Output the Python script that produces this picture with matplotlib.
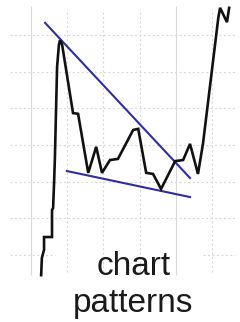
import matplotlib
matplotlib.use('Agg')
from matplotlib import pyplot as plt

# price path (day, price)
days = [2.8, 3.0, 3.6, 3.6, 5.8, 5.8, 6.1, 6.4, 6.6, 7.2, 7.7, 8.0, 8.6,
        11.6, 13.0, 15.8, 18.0, 19.6, 21.8, 24.0, 28.2, 29.6, 31.8, 33.7,
        35.9, 39.8, 42.0, 43.9, 46.1, 47.5, 51.7, 52.2, 54.1, 54.7]
prices = [4.5, 9.2, 11.4, 14.9, 14.9, 22.3, 22.8, 30.5, 36.7, 61.3, 67.3, 68.6, 67.3,
          48.7, 48.5, 32.4, 39.5, 32.4, 35.9, 36.2, 44.1, 44.4, 32.4, 32.1,
          28.0, 35.6, 35.9, 40.3, 32.1, 40.5, 74.6, 77.4, 73.5, 77.4]

# trend lines (start, end)
upper_days = [3.9, 43.9]
upper_prices = [73.3, 31.0]
lower_days = [9.9, 43.9]
lower_prices = [32.9, 25.8]

grid_days = [10, 20, 30, 50]
solid_days = [0, 40]
grid_prices = [20, 30, 40, 50, 60, 70]

fig = plt.figure(figsize=(2.4, 3.22), dpi=100)
ax = fig.add_axes([0, 0, 1, 1])
ax.set_xlim(-8.56, 57.7)
ax.set_ylim(-8.27, 79.54)
ax.axis('off')

grid_color = '#dadada'
ax.vlines(solid_days, 4.5, 78, color=grid_color, lw=0.8)
ax.vlines(grid_days, 5.5, 77, color=grid_color, lw=0.8, linestyles=(0, (2, 2)))
ax.hlines(grid_prices, -5.8, 56.4, color=grid_color, lw=0.8, linestyles=(0, (2, 2)))
ax.hlines([10, 10], [-5.8, 47.5], [6.6, 56.4], color=grid_color, lw=0.8,
          linestyles=(0, (2, 2)))

ax.plot(upper_days, upper_prices, color='#2e2e9e', lw=1.5)
ax.plot(lower_days, lower_prices, color='#2e2e9e', lw=1.5)
ax.plot(days, prices, color='#111111', lw=1.9, solid_joinstyle='miter')

ax.text(0.555, 0.146, 'chart', transform=ax.transAxes, ha='center', va='baseline',
        fontsize=24, family='Liberation Sans', color='#1a1a1a')
ax.text(0.555, 0.031, 'patterns', transform=ax.transAxes, ha='center', va='baseline',
        fontsize=24, family='Liberation Sans', color='#1a1a1a')

plt.savefig('out.png', dpi=100)
